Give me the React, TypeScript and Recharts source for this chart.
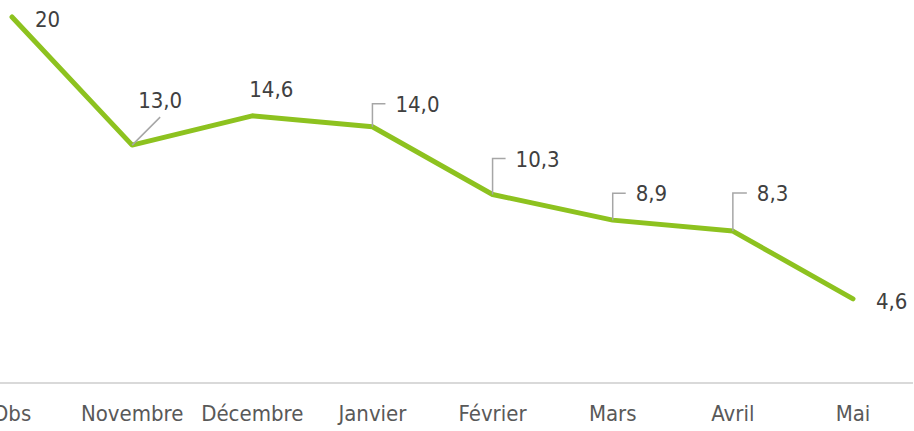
import { LineChart, Line, XAxis, YAxis, LabelList } from "recharts";

const months = ["Obs", "Novembre", "Décembre", "Janvier", "Février", "Mars", "Avril", "Mai"];
const values = [20, 13.0, 14.6, 14.0, 10.3, 8.9, 8.3, 4.6];

const data = months.map((month, i) => ({ month, value: values[i] }));

// label placement per point: text offset and optional leader ("diag" or "bracket")
const labelLayout = [
  { dx: 23, dy: 10, leader: "" },
  { dx: 6, dy: -37, leader: "diag" },
  { dx: -3, dy: -19, leader: "" },
  { dx: 23, dy: -15, leader: "bracket" },
  { dx: 23, dy: -28, leader: "bracket" },
  { dx: 23, dy: -19, leader: "bracket" },
  { dx: 24, dy: -30, leader: "bracket" },
  { dx: 23, dy: 10, leader: "" },
];

const FONT = "'DejaVu Sans Condensed', 'DejaVu Sans', sans-serif";
const GREEN = "#8DC21F";

const fmt = (v: number, i: number) =>
  i === 0 ? String(v) : v.toFixed(1).replace(".", ",");

const ValueLabel = (props: any) => {
  const { x, y, value, index } = props;
  const l = labelLayout[index];
  const tx = x + l.dx;
  const ty = y + l.dy;
  return (
    <g>
      {l.leader === "bracket" && (
        <polyline
          points={`${x},${y} ${x},${ty - 8} ${x + l.dx - 10},${ty - 8}`}
          fill="none"
          stroke="#a6a6a6"
          strokeWidth={1.5}
        />
      )}
      {l.leader === "diag" && (
        <line x1={x} y1={y} x2={x + 28} y2={y - 28} stroke="#a6a6a6" strokeWidth={1.5} />
      )}
      <text x={tx} y={ty} fill="#404040" fontSize={22} fontFamily={FONT}>
        {fmt(value, index)}
      </text>
    </g>
  );
};

const MonthTick = (props: any) => {
  const { x, y, payload } = props;
  return (
    <text x={x} y={y + 38} textAnchor="middle" fill="#595959" fontSize={22} fontFamily={FONT}>
      {payload.value}
    </text>
  );
};

export default function App() {
  return (
    <div style={{ position: "fixed", left: 0, top: 0, width: 914, height: 431, overflow: "hidden", background: "#fff" }}>
      <div style={{ position: "absolute", left: -60, top: 0 }}>
        <LineChart width={974} height={431} data={data} margin={{ top: 17, right: 1, left: 12, bottom: 0 }}>
          <XAxis
            dataKey="month"
            height={48}
            padding={{ left: 60, right: 60 }}
            axisLine={{ stroke: "#d9d9d9", strokeWidth: 2 }}
            tickLine={false}
            tickSize={0}
            tickMargin={0}
            interval={0}
            tick={<MonthTick />}
          />
          <YAxis hide domain={[0, 20]} />
          <Line
            dataKey="value"
            stroke={GREEN}
            strokeWidth={5}
            strokeLinecap="round"
            strokeLinejoin="round"
            dot={false}
            activeDot={false}
            isAnimationActive={false}
          >
            <LabelList dataKey="value" content={<ValueLabel />} />
          </Line>
        </LineChart>
      </div>
    </div>
  );
}
